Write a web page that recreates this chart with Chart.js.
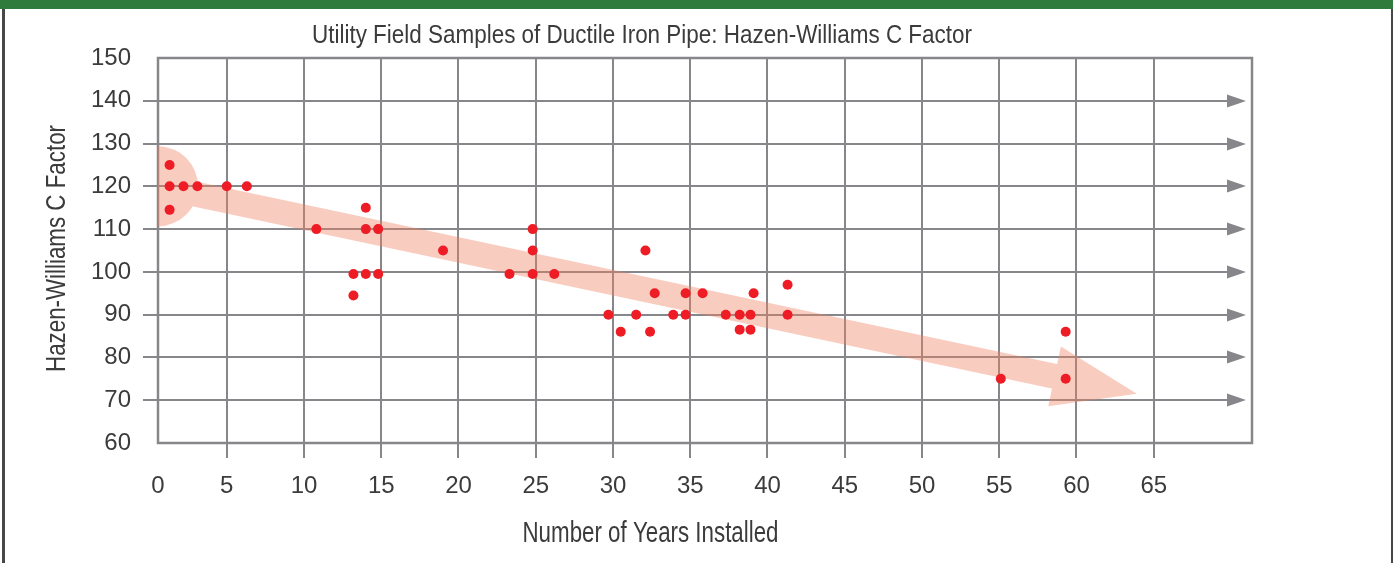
<!DOCTYPE html>
<html>
<head>
<meta charset="utf-8">
<title>Hazen-Williams C Factor</title>
<script src="https://cdn.jsdelivr.net/npm/chart.js@4/dist/chart.umd.min.js"></script>
<style>
  body { margin: 0; background: #fff; }
  canvas { display: block; }
</style>
</head>
<body>
<canvas id="grafica" width="1393" height="563"></canvas>
<script>
// valores (anos instalados vs factor C)
const years = [1.3, 1.3, 2.2, 3.1, 5.0, 6.3, 1.3, 10.8, 14.0, 14.0, 14.8, 13.2, 14.0, 14.8, 13.2,
  19.0, 24.8, 24.8, 23.3, 24.8, 26.2, 32.1, 29.7, 30.5, 31.5, 32.4, 32.7, 33.9, 34.7, 34.7,
  35.8, 37.3, 38.2, 38.2, 38.9, 38.9, 39.1, 41.3, 41.3, 55.1, 59.3, 59.3];
const cFactor = [125, 120, 120, 120, 120, 120, 114.5, 110, 115, 110, 110, 99.5, 99.5, 99.5, 94.5,
  105, 110, 105, 99.5, 99.5, 99.5, 105, 90, 86, 90, 86, 95, 90, 95, 90,
  95, 90, 90, 86.5, 90, 86.5, 95, 97, 90, 75, 86, 75];

const xTicks = [0, 5, 10, 15, 20, 25, 30, 35, 40, 45, 50, 55, 60, 65];
const yTicks = [60, 70, 80, 90, 100, 110, 120, 130, 140, 150];
const arrowLines = [70, 80, 90, 100, 110, 120, 130, 140]; // lineas con flecha
const xMin = 0.55;   // en el original la linea "0" queda medio ano adentro
const xMax = 71.36;
const trendFrom = [0.55, 120];
const trendTo = [63.9, 71.5];

const gris = '#87878b';
const texto = '#3b3b3b';
const fuente = '"Liberation Sans", Arial, sans-serif';

// texto comprimido a un ancho dado (la fuente original es condensada)
function textoAjustado(ctx, str, cx, cy, ancho, size, rot) {
  ctx.save();
  ctx.font = size + 'px ' + fuente;
  const m = ctx.measureText(str).width;
  ctx.translate(cx, cy);
  if (rot) ctx.rotate(rot);
  ctx.scale(ancho / m, 1);
  ctx.fillText(str, 0, 0);
  ctx.restore();
}

const decoracion = {
  id: 'decoracion',
  beforeDraw(chart) {
    const ctx = chart.ctx;
    ctx.save();
    ctx.fillStyle = '#fff';
    ctx.fillRect(0, 0, chart.width, chart.height);
    ctx.fillStyle = '#2f7b3c';
    ctx.fillRect(0, 0, chart.width, 9);
    ctx.fillStyle = '#474747';
    ctx.fillRect(2, 9, 3, chart.height - 9);
    ctx.fillRect(1391, 9, 2, chart.height - 9);
    ctx.restore();
  },
  beforeDatasetsDraw(chart) {
    const ctx = chart.ctx;
    const a = chart.chartArea;
    const x = chart.scales.x, y = chart.scales.y;
    ctx.save();

    // lineas horizontales con punta de flecha
    ctx.strokeStyle = gris;
    ctx.fillStyle = gris;
    ctx.lineWidth = 2;
    arrowLines.forEach(v => {
      const py = Math.round(y.getPixelForValue(v));
      ctx.beginPath();
      ctx.moveTo(a.left - 15, py);
      ctx.lineTo(a.right - 24, py);
      ctx.stroke();
      ctx.beginPath();
      ctx.moveTo(a.right - 25, py - 6.5);
      ctx.lineTo(a.right - 6, py);
      ctx.lineTo(a.right - 25, py + 6.5);
      ctx.closePath();
      ctx.fill();
    });

    // marco
    ctx.lineWidth = 2.5;
    ctx.strokeRect(a.left, a.top, a.right - a.left, a.bottom - a.top);

    // flecha de tendencia
    const x0 = x.getPixelForValue(trendFrom[0]), y0 = y.getPixelForValue(trendFrom[1]);
    const x1 = x.getPixelForValue(trendTo[0]), y1 = y.getPixelForValue(trendTo[1]);
    const len = Math.hypot(x1 - x0, y1 - y0);
    ctx.beginPath();
    ctx.rect(a.left, a.top, a.right - a.left, a.bottom - a.top);
    ctx.clip();
    ctx.translate(x0, y0);
    ctx.rotate(Math.atan2(y1 - y0, x1 - x0));
    ctx.beginPath();
    ctx.arc(0, 0, 40, 0, Math.PI * 2);
    ctx.rect(0, -12.5, len - 83, 25);
    ctx.moveTo(len - 84, -30.5);
    ctx.lineTo(len, 0);
    ctx.lineTo(len - 84, 30.5);
    ctx.closePath();
    ctx.fillStyle = 'rgba(240, 128, 98, 0.4)';
    ctx.fill('nonzero');
    ctx.restore();
  },
  afterDraw(chart) {
    const ctx = chart.ctx;
    ctx.save();
    ctx.fillStyle = texto;
    ctx.textAlign = 'center';
    ctx.textBaseline = 'alphabetic';
    textoAjustado(ctx, 'Utility Field Samples of Ductile Iron Pipe: Hazen-Williams C Factor', 642, 43, 660, 25.5);
    textoAjustado(ctx, 'Number of Years Installed', 650.5, 541.5, 256, 29);
    textoAjustado(ctx, 'Hazen-Williams C Factor', 65, 248.5, 247, 27, -Math.PI / 2);
    ctx.restore();
  }
};

new Chart(document.getElementById('grafica'), {
  type: 'scatter',
  data: {
    datasets: [{
      data: years.map((v, i) => ({ x: v, y: cFactor[i] })),
      backgroundColor: '#ee1c25',
      borderWidth: 0,
      pointRadius: 5,
      pointHoverRadius: 5
    }]
  },
  options: {
    responsive: false,
    animation: false,
    devicePixelRatio: 1,
    layout: { padding: { left: 0, right: 141, top: 58, bottom: 0 } },
    plugins: { legend: { display: false }, tooltip: { enabled: false } },
    scales: {
      x: {
        type: 'linear',
        min: xMin,
        max: xMax,
        afterBuildTicks: s => { s.ticks = xTicks.map(v => ({ value: Math.max(v, xMin) })); },
        afterFit: s => { s.height = 120; },
        border: { display: false },
        grid: {
          color: c => c.index === 0 ? 'rgba(0,0,0,0)' : gris,
          lineWidth: 2,
          tickLength: 15
        },
        ticks: {
          callback: (v, i) => String(xTicks[i]),
          autoSkip: false,
          maxRotation: 0,
          padding: 14,
          color: texto,
          font: { family: fuente, size: 24 }
        }
      },
      y: {
        min: 60,
        max: 150,
        afterBuildTicks: s => { s.ticks = yTicks.map(v => ({ value: v })); },
        afterFit: s => { s.width = 158; },
        border: { display: false },
        grid: { display: false, drawTicks: false },
        ticks: {
          padding: 27,
          color: texto,
          font: { family: fuente, size: 24 }
        }
      }
    }
  },
  plugins: [decoracion]
});
</script>
</body>
</html>
